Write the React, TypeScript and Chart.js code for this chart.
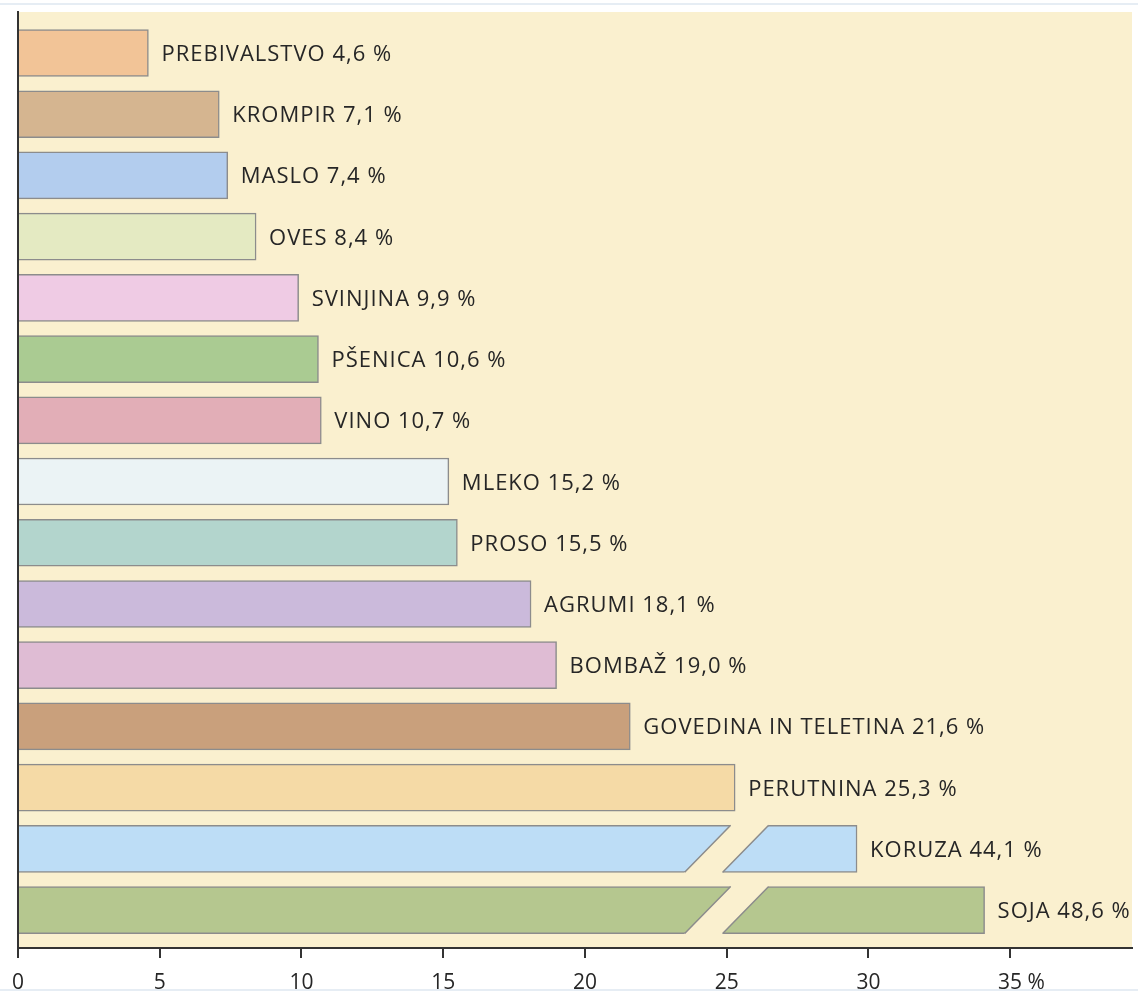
import React, { useEffect, useRef } from "react";
import { Chart, registerables } from "chart.js";

Chart.register(...registerables);

const CATEGORIES = [
  "PREBIVALSTVO",
  "KROMPIR",
  "MASLO",
  "OVES",
  "SVINJINA",
  "PŠENICA",
  "VINO",
  "MLEKO",
  "PROSO",
  "AGRUMI",
  "BOMBAŽ",
  "GOVEDINA IN TELETINA",
  "PERUTNINA",
  "KORUZA",
  "SOJA",
];

const VALUES = [4.6, 7.1, 7.4, 8.4, 9.9, 10.6, 10.7, 15.2, 15.5, 18.1, 19.0, 21.6, 25.3, 44.1, 48.6];

const COLORS = [
  "#F2C497",
  "#D5B590",
  "#B3CDEE",
  "#E4EAC2",
  "#EFCBE4",
  "#AACB92",
  "#E2AEB7",
  "#EBF3F5",
  "#B3D5CD",
  "#CBBADB",
  "#DFBCD4",
  "#C9A07C",
  "#F5DAA6",
  "#BDDDF6",
  "#B5C78F",
];

const X_TICKS = [0, 5, 10, 15, 20, 25, 30, 35];
const X_MAX = 39.3;
// the axis is broken at 25: bars longer than the axis skip this many units
const BREAK_AT = 25;
const BREAK_SKIP = 14.5;
const BREAK_LIMIT = 35;

const CREAM = "#FAF0CF";
const BORDER = "#8C8C8C";
const AXIS = "#333333";
const TEXT = "#262626";
const FONT = "'Open Sans', 'Noto Sans', sans-serif";

const isBroken = (v: number) => v > BREAK_LIMIT;
const shownValue = (v: number) => (isBroken(v) ? v - BREAK_SKIP : v);
const fmt = (v: number) => v.toFixed(1).replace(".", ",") + " %";

const customPlugin = {
  id: "customDraw",
  beforeDraw(chart: any) {
    const { ctx, chartArea, width, height } = chart;
    ctx.save();
    ctx.fillStyle = "#FFFFFF";
    ctx.fillRect(0, 0, width, height);
    ctx.fillStyle = "#E6EDF4";
    ctx.fillRect(0, 3, width, 2);
    ctx.fillRect(0, height - 4, width, 2);
    ctx.fillStyle = CREAM;
    ctx.fillRect(chartArea.left, chartArea.top, chartArea.right - chartArea.left, chartArea.bottom - chartArea.top);
    ctx.restore();
  },
  afterDatasetsDraw(chart: any) {
    const { ctx } = chart;
    const meta = chart.getDatasetMeta(0);
    const xScale = chart.scales.x;
    ctx.save();
    meta.data.forEach((bar: any, i: number) => {
      const v = VALUES[i];
      const props = bar.getProps(["x", "y", "base", "height"], true);
      const h = props.height;
      const top = props.y - h / 2;
      const bottom = props.y + h / 2;
      if (isBroken(v)) {
        const cx = xScale.getPixelForValue(BREAK_AT);
        const gap = 19;
        const slant = 23;
        const ext = 2;
        const k = (2 * slant) / h;
        const lx = (y: number) => cx - gap + slant - (y - top) * k;
        const rx = (y: number) => cx + gap + slant - (y - top) * k;
        ctx.fillStyle = CREAM;
        ctx.beginPath();
        ctx.moveTo(lx(top - ext), top - ext);
        ctx.lineTo(rx(top - ext), top - ext);
        ctx.lineTo(rx(bottom + ext), bottom + ext);
        ctx.lineTo(lx(bottom + ext), bottom + ext);
        ctx.closePath();
        ctx.fill();
        ctx.strokeStyle = BORDER;
        ctx.lineWidth = 1.5;
        ctx.beginPath();
        ctx.moveTo(lx(top), top);
        ctx.lineTo(lx(bottom), bottom);
        ctx.moveTo(rx(top), top);
        ctx.lineTo(rx(bottom), bottom);
        ctx.stroke();
      }
      ctx.fillStyle = TEXT;
      ctx.font = `500 22px ${FONT}`;
      try {
        (ctx as any).letterSpacing = "1px";
      } catch (e) {}
      ctx.textAlign = "left";
      ctx.textBaseline = "alphabetic";
      ctx.fillText(`${CATEGORIES[i]} ${fmt(v)}`, props.x + 13, props.y + 8);
    });
    ctx.restore();
  },
  afterDraw(chart: any) {
    const { ctx } = chart;
    const xScale = chart.scales.x;
    let items: any[] = [];
    try {
      items = xScale.getLabelItems();
    } catch (e) {
      items = [];
    }
    const it = items.find((o: any) => o.label === "35");
    ctx.save();
    ctx.font = `500 21px ${FONT}`;
    ctx.fillStyle = TEXT;
    ctx.textAlign = "left";
    if (it) {
      const [tx, ty] = it.options.translation;
      ctx.textBaseline = it.options.textBaseline;
      const w = ctx.measureText("35").width;
      ctx.fillText(" %", tx + w / 2, ty + (it.textOffset || 0));
    }
    ctx.restore();
  },
};

export default function App() {
  const ref = useRef<HTMLCanvasElement | null>(null);
  useEffect(() => {
    if (!ref.current) return;
    const chart = new Chart(ref.current, {
      type: "bar",
      data: {
        datasets: [
          {
            data: VALUES.map((v, i) => ({ x: shownValue(v), y: i })),
            backgroundColor: COLORS,
            borderColor: BORDER,
            borderWidth: 1.5,
            borderSkipped: "left",
            barThickness: 47,
          },
        ],
      },
      options: {
        indexAxis: "y",
        animation: false,
        responsive: false,
        maintainAspectRatio: false,
        devicePixelRatio: 1,
        layout: { padding: { left: 17, top: 12, right: 6, bottom: 0 } },
        plugins: { legend: { display: false }, tooltip: { enabled: false }, title: { display: false } },
        scales: {
          x: {
            type: "linear",
            position: "bottom",
            min: 0,
            max: X_MAX,
            afterBuildTicks(scale: any) {
              scale.ticks = X_TICKS.map((v) => ({ value: v }));
            },
            afterFit(scale: any) {
              scale.height = 45;
            },
            grid: { display: true, drawOnChartArea: false, drawTicks: true, tickLength: 10, color: AXIS, lineWidth: 2 },
            border: { display: true, color: AXIS, width: 2 },
            ticks: {
              color: TEXT,
              font: { family: FONT, size: 21, weight: "500" },
              padding: 12,
              maxRotation: 0,
              autoSkip: false,
              callback: (v: any) => String(v),
            },
          },
          y: {
            type: "linear",
            min: -0.67,
            max: 14.62,
            reverse: true,
            offset: false,
            afterFit(scale: any) {
              scale.width = 0;
            },
            grid: { display: false, offset: false },
            border: { display: true, color: AXIS, width: 2 },
            ticks: { display: false },
          },
        },
      },
      plugins: [customPlugin],
    });
    return () => chart.destroy();
  }, []);
  return (
    <div style={{ position: "absolute", left: 0, top: 0, width: 1138, height: 993 }}>
      <canvas ref={ref} width={1138} height={993} />
    </div>
  );
}
